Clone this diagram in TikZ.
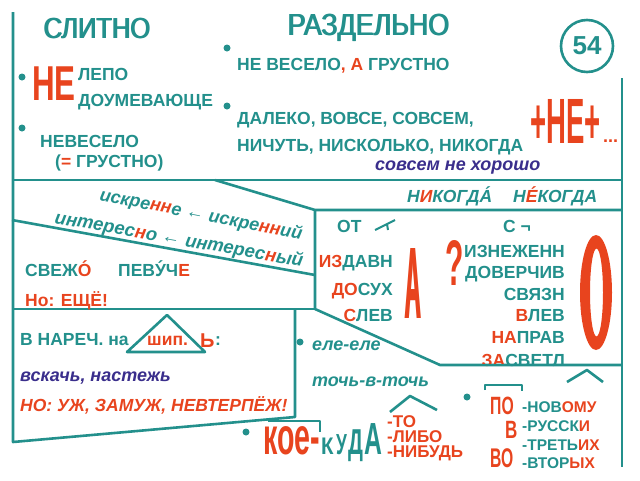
\documentclass[tikz,border=0pt]{standalone}
\usepackage{fontspec}
\setmainfont{Liberation Sans}
\usepackage{graphicx}
\definecolor{tl}{HTML}{23908C}
\definecolor{rd}{HTML}{E8441E}
\definecolor{bl}{HTML}{3A2E8C}
\newcommand{\R}[1]{\textcolor{rd}{#1}}
\newcommand{\fs}[1]{\fontsize{#1}{#1}\selectfont}
\newcommand{\ac}[1]{\accent"00B4 #1}
\newcommand{\fb}[1]{\rlap{#1}\kern1.5pt #1}
\begin{document}
\begin{tikzpicture}[x=1pt,y=-1pt,
  ln/.style={draw=tl, line width=2.6pt, line join=round},
  bul/.style={fill=tl, circle, inner sep=0pt, minimum size=7pt},
  tx/.style={inner sep=0pt, anchor=base west, text=tl, font=\bfseries\fs{17.5}},
  txr/.style={tx, anchor=base east},
  txi/.style={tx, font=\bfseries\itshape\fs{18}},
  big/.style={inner sep=0pt, anchor=base west, font=\bfseries}]
\useasboundingbox[fill=white] (0,0) rectangle (640,480);
% frame lines
\draw[ln] (13,12) -- (13,442) -- (295,417) -- (295,309);
\draw[ln] (13,180) -- (622,180);
\draw[ln] (215,180) -- (315,210) -- (622,210);
\draw[ln] (315,210) -- (315,309) -- (440,365) -- (622,365);
\draw[ln] (13,309) -- (315,309);
\draw[ln] (12,220) -- (315,275);
\draw[ln] (622,78) -- (622,467);
\draw[ln] (268,421) -- (320,421) -- (320,432);
\draw[ln] (485,390) -- (485,385) -- (522,385) -- (522,391);
\draw[ln, line width=2pt] (375,230) -- (395,220);
\draw[ln, line width=2pt] (387,224) -- (388,230);
\draw[ln] (167,315) -- (205,352) -- (127,352) -- cycle;
\draw[ln] (390,412) -- (410,396) -- (437,410);
\draw[ln] (567,382) -- (587,370) -- (603,382);
% titles
\node[big,text=tl,font=\mdseries] (sl) at (43,38) {\fs{29}\scalebox{0.88}[1]{\fb{СЛИТНО}}};
\node[big,text=tl,font=\mdseries] (rz) at (287,35) {\fs{30.5}\scalebox{0.88}[1]{\fb{РАЗДЕЛЬНО}}};
\node[draw=tl, line width=2.6pt, circle, minimum size=52pt, inner sep=0pt, text=tl, font=\bfseries\fs{26}] (n54) at (587,46) {54};
% bullets
\node[bul] (b1) at (22,77) {};
\node[bul] (b2) at (22,128) {};
\node[bul] (b3) at (227,48) {};
\node[bul] (b4) at (227,106) {};
\node[bul] (b5) at (300,342) {};
\node[bul] (b6) at (246,432) {};
\node[bul] (b7) at (467,397) {};
% slitno
\node[big,text=rd] (ne) at (32,100) {\fs{49}\scalebox{0.64}[1]{НЕ}};
\node[tx] (lepo) at (78,80) {ЛЕПО};
\node[tx] (doum) at (78,106) {ДОУМЕВАЮЩЕ};
\node[tx] (nevs) at (40,147) {НЕВЕСЕЛО};
\node[tx] (grus) at (55,167) {(\R{=} ГРУСТНО)};
% razdelno
\node[tx] (nevg) at (237,70) {НЕ ВЕСЕЛО\R{, А} ГРУСТНО};
\node[tx] (dal) at (237,124) {ДАЛЕКО, ВОВСЕ, СОВСЕМ,};
\node[tx] (nich) at (237,151) {НИЧУТЬ, НИСКОЛЬКО, НИКОГДА};
\node[big,text=rd] (plus) at (530,143) {\fs{64}\scalebox{0.43}[1]{+НЕ+}};
\node[tx,text=rd,font=\bfseries\fs{18}] (dots) at (603,142) {...};
\node[txi,text=bl] (sovs) at (375,170) {совсем не хорошо};
\node[tx,font=\bfseries\itshape\fs{17.5}] (nik1) at (407,202) {Н\R{И}КОГД\ac{А}};
\node[tx,font=\bfseries\itshape\fs{17.5}] (nik2) at (513,202) {Н\R{\ac{Е}}КОГДА};
% nn
\node[inner sep=0pt, text=tl, font=\bfseries\itshape\fs{18}, rotate=-11] (isk) at (201,215) {искре\R{нн}е {\mdseries\upshape ←} искре\R{нн}ий};
\node[inner sep=0pt, text=tl, font=\bfseries\itshape\fs{18.5}, rotate=-10] (int) at (179,240) {интерес\R{н}о {\mdseries\upshape ←} интерес\R{н}ый};
\node[tx] (svez) at (25,276) {СВЕЖ\R{\ac{О}}};
\node[tx] (pev) at (118,276) {ПЕВ\ac{У}Ч\R{Е}};
\node[tx,text=rd] (esh) at (25,306) {Но: ЕЩЁ!};
% shipyashie
\node[tx] (nar) at (20,345) {В НАРЕЧ. на};
\node[tx,text=rd] (ship) at (147,345) {шип.};
\node[tx,text=rd,font=\bfseries\fs{20}] (mz) at (200,347) {Ь};
\node[tx] (col) at (215,345) {:};
\node[txi,text=bl] (vsk) at (20,381) {вскачь, настежь};
\node[tx,text=rd,font=\bfseries\itshape\fs{17.5}] (uzh) at (20,411) {НО: УЖ, ЗАМУЖ, НЕВТЕРПЁЖ!};
% prefixes
\node[tx] (ot) at (337,232) {ОТ};
\node[txr] (izd) at (393,267) {\R{ИЗ}ДАВН};
\node[txr] (dos) at (393,295) {\R{ДО}СУХ};
\node[txr] (slv) at (393,321) {\R{С}ЛЕВ};
\node[big,text=rd] (bigA) at (404,318) {\fs{24}\scalebox{0.95}[4.24]{\fb{А}}};
\node[big,text=rd] (q) at (445,285) {\fs{30}\scalebox{1}[2.15]{?}};
\node[tx] (sn) at (503,232) {С ¬};
\node[txr] (izn) at (565,257) {ИЗНЕЖЕНН};
\node[txr] (dov) at (565,278) {ДОВЕРЧИВ};
\node[txr] (svz) at (565,300) {СВЯЗН};
\node[txr] (vlv) at (565,321) {\R{В}ЛЕВ};
\node[txr] (npr) at (565,343) {\R{НА}ПРАВ};
\node[txr] (zsv) at (565,366) {\R{ЗА}СВЕТЛ};
\fill[rd, even odd rule] (596,292.5) ellipse [x radius=16pt, y radius=57.5pt] (596.5,292.5) ellipse [x radius=6.5pt, y radius=44pt];
\draw[ln] (440,365) -- (622,365);
% hyphen
\node[txi] (ele) at (312,350) {еле-еле};
\node[txi] (toch) at (312,386) {точь-в-точь};
\node[big,text=rd] (koe) at (263,454) {\fs{52}\scalebox{0.55}[1]{кое-}};
\node[big,text=tl] (k1) at (321,454) {\fs{24}\scalebox{0.85}[1]{К}};
\node[big,text=tl] (k2) at (336,454) {\fs{29}\scalebox{0.6}[1]{У}};
\node[big,text=tl] (k3) at (348,454) {\fs{36}\scalebox{0.58}[1]{Д}};
\node[big,text=tl] (k4) at (364,454) {\fs{45}\scalebox{0.55}[1]{А}};
\node[tx,text=rd,font=\bfseries\fs{17}] (to) at (387,427) {-ТО};
\node[tx,text=rd,font=\bfseries\fs{17}] (libo) at (387,442) {-ЛИБО};
\node[tx,text=rd,font=\bfseries\fs{17}] (nib) at (387,457) {-НИБУДЬ};
% po
\node[big,text=rd] (po) at (490,414) {\fs{25}\scalebox{0.63}[1]{ПО}};
\node[big,text=rd] (v) at (505,438) {\fs{25}\scalebox{0.68}[1]{В}};
\node[big,text=rd] (vo) at (490,467) {\fs{27}\scalebox{0.58}[1]{ВО}};
\node[tx,font=\bfseries\fs{15.5}] (nov) at (522,412) {-НОВ\R{ОМУ}};
\node[tx,font=\bfseries\fs{15.5}] (rus) at (522,431) {-РУССК\R{И}};
\node[tx,font=\bfseries\fs{15.5}] (tre) at (522,450) {-ТРЕТЬ\R{ИХ}};
\node[tx,font=\bfseries\fs{15.5}] (vto) at (522,468) {-ВТОР\R{ЫХ}};
\end{tikzpicture}
\end{document}
